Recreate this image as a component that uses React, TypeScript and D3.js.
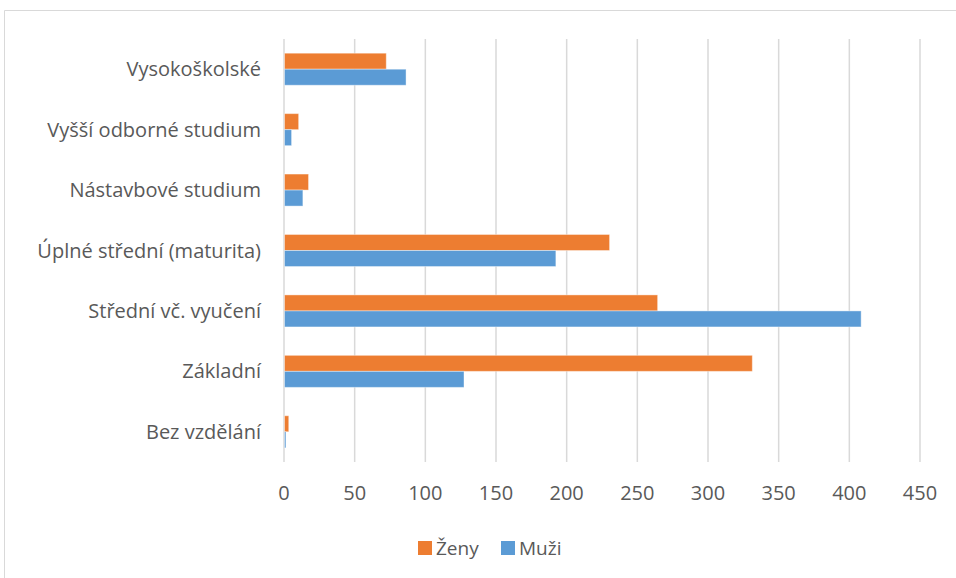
import React, { useEffect, useRef } from "react";
import * as d3 from "d3";

const WIDTH = 956;
const HEIGHT = 578;
const MARGIN = { top: 39, right: 36, bottom: 116, left: 284 };

// bottom-to-top order as in the reference
const categories = [
  "Bez vzdělání",
  "Základní",
  "Střední vč. vyučení",
  "Úplné střední (maturita)",
  "Nástavbové studium",
  "Vyšší odborné studium",
  "Vysokoškolské",
];
const zeny = [3, 331, 264, 230, 17, 10, 72];
const muzi = [1, 127, 408, 192, 13, 5, 86];
const xTicks = [0, 50, 100, 150, 200, 250, 300, 350, 400, 450];

const series = [
  { key: "Ženy", values: zeny, color: "#ED7D31" },
  { key: "Muži", values: muzi, color: "#5B9BD5" },
];

const FONT = "'Open Sans', 'Noto Sans', sans-serif";
const TEXT = "#595959";

const App = () => {
  const ref = useRef<SVGSVGElement>(null);

  useEffect(() => {
    const svg = d3.select(ref.current);
    svg.selectAll("*").remove();

    const boundsWidth = WIDTH - MARGIN.left - MARGIN.right;
    const boundsHeight = HEIGHT - MARGIN.top - MARGIN.bottom;

    const x = d3.scaleLinear().domain([0, 450]).range([0, boundsWidth]);
    const y = d3
      .scaleBand()
      .domain([...categories].reverse())
      .range([0, boundsHeight])
      .paddingInner(0.47)
      .paddingOuter(0.235);
    const inner = d3
      .scaleBand()
      .domain(series.map((s) => s.key))
      .range([0, y.bandwidth()]);

    // chart frame (runs off the right / bottom edge)
    svg
      .append("path")
      .attr("d", `M4.5,${HEIGHT + 5} V10.5 H${WIDTH + 5}`)
      .attr("fill", "none")
      .attr("stroke", "#d9d9d9")
      .attr("stroke-width", 1);

    const g = svg
      .append("g")
      .attr("transform", `translate(${MARGIN.left},${MARGIN.top})`);

    g.append("g")
      .selectAll("line")
      .data(xTicks)
      .join("line")
      .attr("x1", (d) => x(d))
      .attr("x2", (d) => x(d))
      .attr("y1", 0)
      .attr("y2", boundsHeight)
      .attr("stroke", "#d9d9d9")
      .attr("stroke-width", 1.5);

    series.forEach((s) => {
      g.append("g")
        .selectAll("rect")
        .data(categories.map((c, i) => ({ c, v: s.values[i] })))
        .join("rect")
        .attr("x", x(0) + 0.5)
        .attr("y", (d) => (y(d.c) ?? 0) + (inner(s.key) ?? 0))
        .attr("width", (d) => Math.max(0, x(d.v) - x(0)))
        .attr("height", inner.bandwidth())
        .attr("fill", s.color)
        .attr("stroke", "#ffffff")
        .attr("stroke-opacity", 0.4)
        .attr("stroke-width", 1);
    });

    // category labels
    g.append("g")
      .selectAll("text")
      .data(categories)
      .join("text")
      .attr("x", -23)
      .attr("y", (d) => (y(d) ?? 0) + y.bandwidth() / 2)
      .attr("dy", "0.35em")
      .attr("text-anchor", "end")
      .attr("font-family", FONT)
      .attr("font-size", 20)
      .attr("fill", TEXT)
      .text((d) => d);

    // x tick labels
    g.append("g")
      .selectAll("text")
      .data(xTicks)
      .join("text")
      .attr("x", (d) => x(d))
      .attr("y", boundsHeight + 38)
      .attr("text-anchor", "middle")
      .attr("font-family", FONT)
      .attr("font-size", 20)
      .attr("fill", TEXT)
      .text((d) => d);

    // legend
    const legend = svg.append("g").attr("transform", "translate(418,541)");
    const legendX = [0, 83];
    series.forEach((s, i) => {
      const lg = legend.append("g").attr("transform", `translate(${legendX[i]},0)`);
      lg.append("rect").attr("width", 14).attr("height", 14).attr("fill", s.color);
      lg.append("text")
        .attr("x", 18)
        .attr("y", 7)
        .attr("dy", "0.35em")
        .attr("font-family", FONT)
        .attr("font-size", 19)
        .attr("fill", TEXT)
        .text(s.key);
    });
  }, []);

  return <svg ref={ref} width={WIDTH} height={HEIGHT} style={{ display: "block", position: "absolute", left: 0, top: 0 }} />;
};

export default App;
